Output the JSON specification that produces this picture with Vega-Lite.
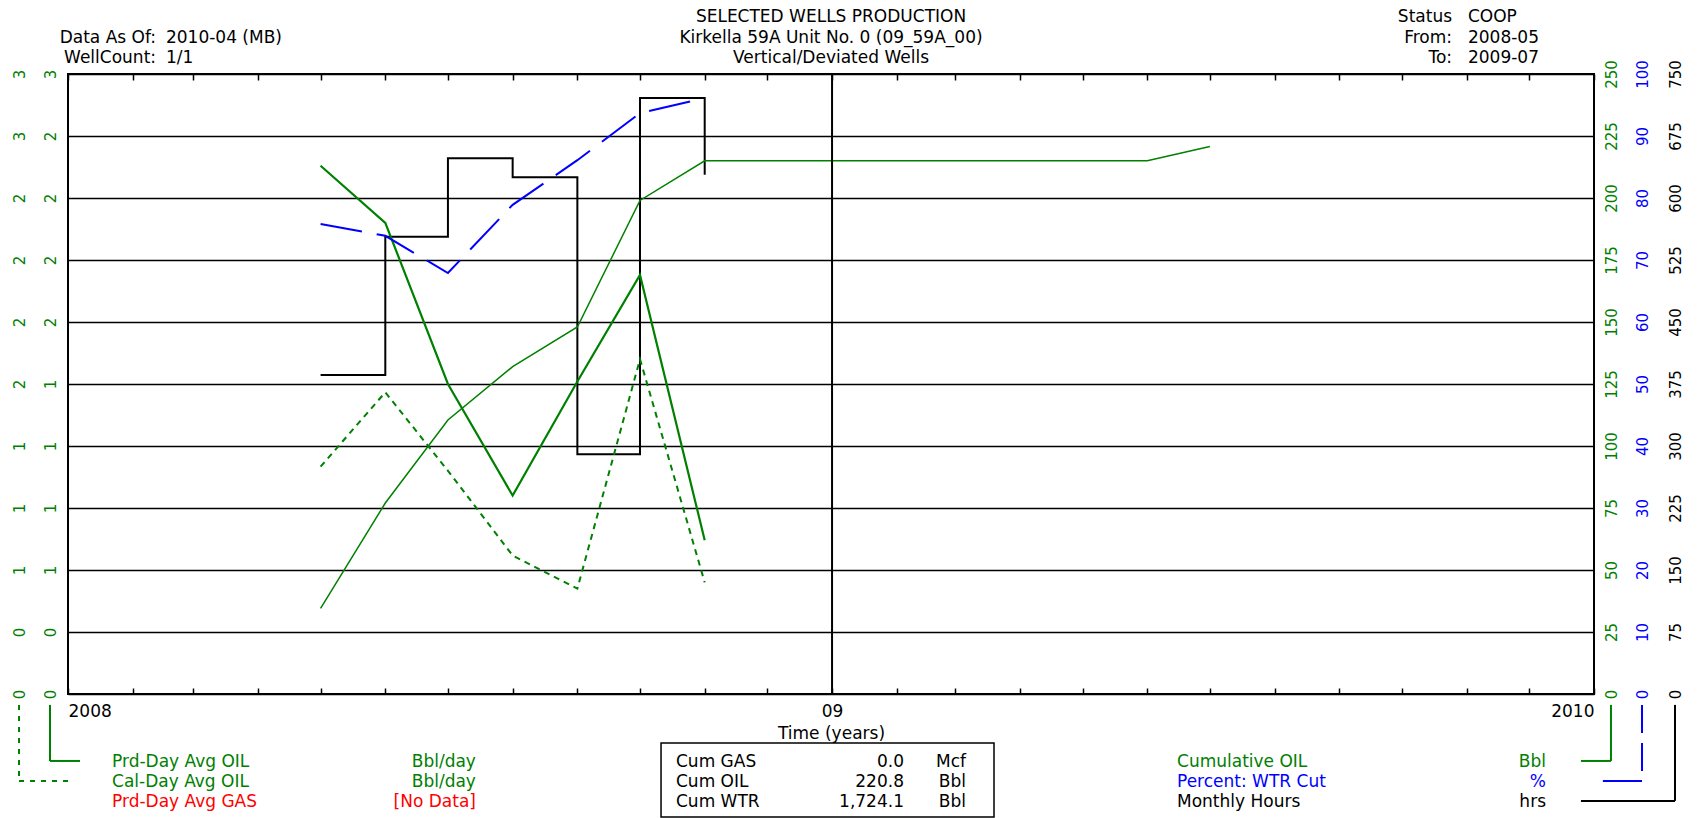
{
  "$schema": "https://vega.github.io/schema/vega-lite/v6.json",
  "width": 1526,
  "height": 620,
  "autosize": {"type": "none"},
  "padding": {"left": 68, "top": 74, "right": 104, "bottom": 124},
  "background": "white",
  "config": {
    "font": "DejaVu Sans",
    "view": {"stroke": "black", "strokeWidth": 2}
  },
  "data": {"values": [
    {"date": "2008/05/01", "prd": 2.13, "cal": 1.10, "cum": 34.5, "wc": 75.8, "hrs": 386},
    {"date": "2008/06/01", "prd": 1.90, "cal": 1.46, "cum": 77.0, "wc": 73.9, "hrs": 553},
    {"date": "2008/07/01", "prd": 1.25, "cal": 1.08, "cum": 110.5, "wc": 67.9, "hrs": 648},
    {"date": "2008/08/01", "prd": 0.80, "cal": 0.67, "cum": 132.0, "wc": 78.9, "hrs": 625},
    {"date": "2008/09/01", "prd": 1.26, "cal": 0.51, "cum": 148.0, "wc": 86.1, "hrs": 290},
    {"date": "2008/10/01", "prd": 1.69, "cal": 1.62, "cum": 199.0, "wc": 93.7, "hrs": 721},
    {"date": "2008/11/01", "prd": 0.62, "cal": 0.54, "cum": 215.0, "wc": 96.1, "hrs": 628},
    {"date": "2008/12/01", "cum": 215.0},
    {"date": "2009/01/01", "cum": 215.0},
    {"date": "2009/02/01", "cum": 215.0},
    {"date": "2009/03/01", "cum": 215.0},
    {"date": "2009/04/01", "cum": 215.0},
    {"date": "2009/05/01", "cum": 215.0},
    {"date": "2009/06/01", "cum": 215.0},
    {"date": "2009/07/01", "cum": 220.8}
  ]},
  "resolve": {"scale": {"y": "independent"}, "axis": {"x": "independent"}},
  "layer": [
    {
      "mark": {"type": "line", "interpolate": "step-after", "color": "black", "strokeWidth": 2},
      "encoding": {
        "x": {"field": "date", "type": "temporal",
          "scale": {"domain": [{"year": 2008, "month": 1, "date": 1}, {"year": 2010, "month": 1, "date": 1}], "nice": false},
          "axis": {"orient": "bottom", "tickCount": {"interval": "month", "step": 1},
            "labelExpr": "month(datum.value) == 0 ? (year(datum.value) == 2009 ? '09' : '' + year(datum.value)) : ''",
            "labelFlush": true, "labelOverlap": false, "grid": false, "domain": false,
            "ticks": true, "tickSize": -6, "tickColor": "black", "tickWidth": 1.5,
            "labelPadding": 15, "labelFontSize": 17, "labelColor": "black",
            "title": "Time (years)", "titleFontSize": 17, "titleFontWeight": "normal", "titleColor": "black", "titlePadding": 6}},
        "y": {"field": "hrs", "type": "quantitative", "scale": {"domain": [0, 750], "nice": false},
          "axis": {"orient": "right", "offset": 81, "values": [0, 75, 150, 225, 300, 375, 450, 525, 600, 675, 750],
            "labelAngle": 270, "labelAlign": "center", "labelBaseline": "middle", "labelPadding": 0,
            "ticks": false, "domain": false, "grid": false, "title": null, "labelColor": "black", "labelFontSize": 15, "labelOverlap": false}}
      }
    },
    {
      "mark": {"type": "line", "color": "#008000", "strokeWidth": 1.5},
      "encoding": {
        "x": {"field": "date", "type": "temporal", "axis": null},
        "y": {"field": "cum", "type": "quantitative", "scale": {"domain": [0, 250], "nice": false},
          "axis": {"orient": "right", "offset": 17, "values": [0, 25, 50, 75, 100, 125, 150, 175, 200, 225, 250],
            "labelAngle": 270, "labelAlign": "center", "labelBaseline": "middle", "labelPadding": 0,
            "ticks": false, "domain": false, "grid": true, "gridColor": "black", "gridWidth": 1.6, "gridOpacity": 1,
            "title": null, "labelColor": "#008000", "labelFontSize": 15, "labelOverlap": false}}
      }
    },
    {
      "mark": {"type": "line", "color": "#008000", "strokeWidth": 2.2},
      "encoding": {
        "x": {"field": "date", "type": "temporal", "axis": null},
        "y": {"field": "prd", "type": "quantitative", "scale": {"domain": [0, 2.5], "nice": false},
          "axis": {"orient": "left", "offset": 18, "values": [0, 0.25, 0.5, 0.75, 1, 1.25, 1.5, 1.75, 2, 2.25, 2.5], "format": ".0f",
            "labelAngle": 270, "labelAlign": "center", "labelBaseline": "middle", "labelPadding": 0,
            "ticks": false, "domain": false, "grid": false, "title": null, "labelColor": "#008000", "labelFontSize": 15, "labelOverlap": false}}
      }
    },
    {
      "mark": {"type": "line", "color": "#008000", "strokeWidth": 2, "strokeDash": [6, 5]},
      "encoding": {
        "x": {"field": "date", "type": "temporal", "axis": null},
        "y": {"field": "cal", "type": "quantitative", "scale": {"domain": [0, 3], "nice": false},
          "axis": {"orient": "left", "offset": 49, "values": [0, 0.3, 0.6, 0.9, 1.2, 1.5, 1.8, 2.1, 2.4, 2.7, 3], "format": ".0f",
            "labelAngle": 270, "labelAlign": "center", "labelBaseline": "middle", "labelPadding": 0,
            "ticks": false, "domain": false, "grid": false, "title": null, "labelColor": "#008000", "labelFontSize": 15, "labelOverlap": false}}
      }
    },
    {
      "mark": {"type": "line", "color": "#0000ff", "strokeWidth": 2, "strokeDash": [42, 15]},
      "encoding": {
        "x": {"field": "date", "type": "temporal",
          "axis": {"orient": "top", "tickCount": {"interval": "month", "step": 1}, "labels": false, "domain": false, "grid": false,
            "ticks": true, "tickSize": -6, "tickColor": "black", "tickWidth": 1.5, "title": null}},
        "y": {"field": "wc", "type": "quantitative", "scale": {"domain": [0, 100], "nice": false},
          "axis": {"orient": "right", "offset": 48, "values": [0, 10, 20, 30, 40, 50, 60, 70, 80, 90, 100],
            "labelAngle": 270, "labelAlign": "center", "labelBaseline": "middle", "labelPadding": 0,
            "ticks": false, "domain": false, "grid": false, "title": null, "labelColor": "#0000ff", "labelFontSize": 15, "labelOverlap": false}}
      }
    },
    {
      "data": {"values": [{}]},
      "mark": {"type": "rule", "color": "black", "strokeWidth": 2},
      "encoding": {
        "x": {"datum": {"year": 2009, "month": 1, "date": 1}, "type": "temporal", "axis": null}
      }
    },
    {
      "data": {"values": [{}]},
      "layer": [
        {"mark": {"type": "text", "align": "center", "baseline": "middle", "fontSize": 17, "color": "black", "text": "SELECTED WELLS PRODUCTION"},
         "encoding": {"x": {"datum": {"year": 2008, "month": 12, "date": 31, "hours": 12}, "type": "temporal", "axis": null},
           "y": {"datum": 273.0, "type": "quantitative", "axis": null, "scale": {"domain": [0, 250], "nice": false}}}},
        {"mark": {"type": "text", "align": "center", "baseline": "middle", "fontSize": 17, "color": "black", "text": "Kirkella 59A Unit No. 0 (09_59A_00)"},
         "encoding": {"x": {"datum": {"year": 2008, "month": 12, "date": 31, "hours": 12}, "type": "temporal", "axis": null},
           "y": {"datum": 264.5, "type": "quantitative", "axis": null, "scale": {"domain": [0, 250], "nice": false}}}},
        {"mark": {"type": "text", "align": "center", "baseline": "middle", "fontSize": 17, "color": "black", "text": "Vertical/Deviated Wells"},
         "encoding": {"x": {"datum": {"year": 2008, "month": 12, "date": 31, "hours": 12}, "type": "temporal", "axis": null},
           "y": {"datum": 256.5, "type": "quantitative", "axis": null, "scale": {"domain": [0, 250], "nice": false}}}},

        {"mark": {"type": "text", "align": "right", "baseline": "middle", "fontSize": 17, "color": "black", "text": "Data As Of:"},
         "encoding": {"x": {"datum": {"year": 2008, "month": 2, "date": 12, "hours": 4}, "type": "temporal", "axis": null},
           "y": {"datum": 264.5, "type": "quantitative", "axis": null, "scale": {"domain": [0, 250], "nice": false}}}},
        {"mark": {"type": "text", "align": "left", "baseline": "middle", "fontSize": 17, "color": "black", "text": "2010-04 (MB)"},
         "encoding": {"x": {"datum": {"year": 2008, "month": 2, "date": 16, "hours": 22}, "type": "temporal", "axis": null},
           "y": {"datum": 264.5, "type": "quantitative", "axis": null, "scale": {"domain": [0, 250], "nice": false}}}},
        {"mark": {"type": "text", "align": "right", "baseline": "middle", "fontSize": 17, "color": "black", "text": "WellCount:"},
         "encoding": {"x": {"datum": {"year": 2008, "month": 2, "date": 12, "hours": 4}, "type": "temporal", "axis": null},
           "y": {"datum": 256.5, "type": "quantitative", "axis": null, "scale": {"domain": [0, 250], "nice": false}}}},
        {"mark": {"type": "text", "align": "left", "baseline": "middle", "fontSize": 17, "color": "black", "text": "1/1"},
         "encoding": {"x": {"datum": {"year": 2008, "month": 2, "date": 16, "hours": 22}, "type": "temporal", "axis": null},
           "y": {"datum": 256.5, "type": "quantitative", "axis": null, "scale": {"domain": [0, 250], "nice": false}}}},

        {"mark": {"type": "text", "align": "right", "baseline": "middle", "fontSize": 17, "color": "black", "text": "Status"},
         "encoding": {"x": {"datum": {"year": 2009, "month": 10, "date": 25}, "type": "temporal", "axis": null},
           "y": {"datum": 273.0, "type": "quantitative", "axis": null, "scale": {"domain": [0, 250], "nice": false}}}},
        {"mark": {"type": "text", "align": "left", "baseline": "middle", "fontSize": 17, "color": "black", "text": "COOP"},
         "encoding": {"x": {"datum": {"year": 2009, "month": 11, "date": 1, "hours": 15}, "type": "temporal", "axis": null},
           "y": {"datum": 273.0, "type": "quantitative", "axis": null, "scale": {"domain": [0, 250], "nice": false}}}},
        {"mark": {"type": "text", "align": "right", "baseline": "middle", "fontSize": 17, "color": "black", "text": "From:"},
         "encoding": {"x": {"datum": {"year": 2009, "month": 10, "date": 25}, "type": "temporal", "axis": null},
           "y": {"datum": 264.5, "type": "quantitative", "axis": null, "scale": {"domain": [0, 250], "nice": false}}}},
        {"mark": {"type": "text", "align": "left", "baseline": "middle", "fontSize": 17, "color": "black", "text": "2008-05"},
         "encoding": {"x": {"datum": {"year": 2009, "month": 11, "date": 1, "hours": 15}, "type": "temporal", "axis": null},
           "y": {"datum": 264.5, "type": "quantitative", "axis": null, "scale": {"domain": [0, 250], "nice": false}}}},
        {"mark": {"type": "text", "align": "right", "baseline": "middle", "fontSize": 17, "color": "black", "text": "To:"},
         "encoding": {"x": {"datum": {"year": 2009, "month": 10, "date": 25}, "type": "temporal", "axis": null},
           "y": {"datum": 256.5, "type": "quantitative", "axis": null, "scale": {"domain": [0, 250], "nice": false}}}},
        {"mark": {"type": "text", "align": "left", "baseline": "middle", "fontSize": 17, "color": "black", "text": "2009-07"},
         "encoding": {"x": {"datum": {"year": 2009, "month": 11, "date": 1, "hours": 15}, "type": "temporal", "axis": null},
           "y": {"datum": 256.5, "type": "quantitative", "axis": null, "scale": {"domain": [0, 250], "nice": false}}}},

        {"mark": {"type": "text", "align": "left", "baseline": "middle", "fontSize": 17, "color": "#008000", "text": "Prd-Day Avg OIL"},
         "encoding": {"x": {"datum": {"year": 2008, "month": 1, "date": 22, "hours": 2}, "type": "temporal", "axis": null},
           "y": {"datum": -27.4, "type": "quantitative", "axis": null, "scale": {"domain": [0, 250], "nice": false}}}},
        {"mark": {"type": "text", "align": "right", "baseline": "middle", "fontSize": 17, "color": "#008000", "text": "Bbl/day"},
         "encoding": {"x": {"datum": {"year": 2008, "month": 7, "date": 14, "hours": 10}, "type": "temporal", "axis": null},
           "y": {"datum": -27.4, "type": "quantitative", "axis": null, "scale": {"domain": [0, 250], "nice": false}}}},
        {"mark": {"type": "text", "align": "left", "baseline": "middle", "fontSize": 17, "color": "#008000", "text": "Cal-Day Avg OIL"},
         "encoding": {"x": {"datum": {"year": 2008, "month": 1, "date": 22, "hours": 2}, "type": "temporal", "axis": null},
           "y": {"datum": -35.5, "type": "quantitative", "axis": null, "scale": {"domain": [0, 250], "nice": false}}}},
        {"mark": {"type": "text", "align": "right", "baseline": "middle", "fontSize": 17, "color": "#008000", "text": "Bbl/day"},
         "encoding": {"x": {"datum": {"year": 2008, "month": 7, "date": 14, "hours": 10}, "type": "temporal", "axis": null},
           "y": {"datum": -35.5, "type": "quantitative", "axis": null, "scale": {"domain": [0, 250], "nice": false}}}},
        {"mark": {"type": "text", "align": "left", "baseline": "middle", "fontSize": 17, "color": "#ff0000", "text": "Prd-Day Avg GAS"},
         "encoding": {"x": {"datum": {"year": 2008, "month": 1, "date": 22, "hours": 2}, "type": "temporal", "axis": null},
           "y": {"datum": -43.5, "type": "quantitative", "axis": null, "scale": {"domain": [0, 250], "nice": false}}}},
        {"mark": {"type": "text", "align": "right", "baseline": "middle", "fontSize": 17, "color": "#ff0000", "text": "[No Data]"},
         "encoding": {"x": {"datum": {"year": 2008, "month": 7, "date": 14, "hours": 10}, "type": "temporal", "axis": null},
           "y": {"datum": -43.5, "type": "quantitative", "axis": null, "scale": {"domain": [0, 250], "nice": false}}}},

        {"mark": {"type": "rect", "fill": "white", "fillOpacity": 0, "stroke": "black", "strokeWidth": 1.5},
         "encoding": {"x": {"datum": {"year": 2008, "month": 10, "date": 11, "hours": 2}, "type": "temporal", "axis": null},
           "x2": {"datum": {"year": 2009, "month": 3, "date": 19, "hours": 14}},
           "y": {"datum": -19.8, "type": "quantitative", "axis": null, "scale": {"domain": [0, 250], "nice": false}},
           "y2": {"datum": -49.6}}},
        {"mark": {"type": "text", "align": "left", "baseline": "middle", "fontSize": 17, "color": "black", "text": "Cum GAS"},
         "encoding": {"x": {"datum": {"year": 2008, "month": 10, "date": 18, "hours": 6}, "type": "temporal", "axis": null},
           "y": {"datum": -27.4, "type": "quantitative", "axis": null, "scale": {"domain": [0, 250], "nice": false}}}},
        {"mark": {"type": "text", "align": "right", "baseline": "middle", "fontSize": 17, "color": "black", "text": "0.0"},
         "encoding": {"x": {"datum": {"year": 2009, "month": 2, "date": 4, "hours": 11}, "type": "temporal", "axis": null},
           "y": {"datum": -27.4, "type": "quantitative", "axis": null, "scale": {"domain": [0, 250], "nice": false}}}},
        {"mark": {"type": "text", "align": "right", "baseline": "middle", "fontSize": 17, "color": "black", "text": "Mcf"},
         "encoding": {"x": {"datum": {"year": 2009, "month": 3, "date": 6, "hours": 4}, "type": "temporal", "axis": null},
           "y": {"datum": -27.4, "type": "quantitative", "axis": null, "scale": {"domain": [0, 250], "nice": false}}}},
        {"mark": {"type": "text", "align": "left", "baseline": "middle", "fontSize": 17, "color": "black", "text": "Cum OIL"},
         "encoding": {"x": {"datum": {"year": 2008, "month": 10, "date": 18, "hours": 6}, "type": "temporal", "axis": null},
           "y": {"datum": -35.5, "type": "quantitative", "axis": null, "scale": {"domain": [0, 250], "nice": false}}}},
        {"mark": {"type": "text", "align": "right", "baseline": "middle", "fontSize": 17, "color": "black", "text": "220.8"},
         "encoding": {"x": {"datum": {"year": 2009, "month": 2, "date": 4, "hours": 11}, "type": "temporal", "axis": null},
           "y": {"datum": -35.5, "type": "quantitative", "axis": null, "scale": {"domain": [0, 250], "nice": false}}}},
        {"mark": {"type": "text", "align": "right", "baseline": "middle", "fontSize": 17, "color": "black", "text": "Bbl"},
         "encoding": {"x": {"datum": {"year": 2009, "month": 3, "date": 6, "hours": 4}, "type": "temporal", "axis": null},
           "y": {"datum": -35.5, "type": "quantitative", "axis": null, "scale": {"domain": [0, 250], "nice": false}}}},
        {"mark": {"type": "text", "align": "left", "baseline": "middle", "fontSize": 17, "color": "black", "text": "Cum WTR"},
         "encoding": {"x": {"datum": {"year": 2008, "month": 10, "date": 18, "hours": 6}, "type": "temporal", "axis": null},
           "y": {"datum": -43.5, "type": "quantitative", "axis": null, "scale": {"domain": [0, 250], "nice": false}}}},
        {"mark": {"type": "text", "align": "right", "baseline": "middle", "fontSize": 17, "color": "black", "text": "1,724.1"},
         "encoding": {"x": {"datum": {"year": 2009, "month": 2, "date": 4, "hours": 11}, "type": "temporal", "axis": null},
           "y": {"datum": -43.5, "type": "quantitative", "axis": null, "scale": {"domain": [0, 250], "nice": false}}}},
        {"mark": {"type": "text", "align": "right", "baseline": "middle", "fontSize": 17, "color": "black", "text": "Bbl"},
         "encoding": {"x": {"datum": {"year": 2009, "month": 3, "date": 6, "hours": 4}, "type": "temporal", "axis": null},
           "y": {"datum": -43.5, "type": "quantitative", "axis": null, "scale": {"domain": [0, 250], "nice": false}}}},

        {"mark": {"type": "text", "align": "left", "baseline": "middle", "fontSize": 17, "color": "#008000", "text": "Cumulative OIL"},
         "encoding": {"x": {"datum": {"year": 2009, "month": 6, "date": 15, "hours": 6}, "type": "temporal", "axis": null},
           "y": {"datum": -27.4, "type": "quantitative", "axis": null, "scale": {"domain": [0, 250], "nice": false}}}},
        {"mark": {"type": "text", "align": "right", "baseline": "middle", "fontSize": 17, "color": "#008000", "text": "Bbl"},
         "encoding": {"x": {"datum": {"year": 2009, "month": 12, "date": 9}, "type": "temporal", "axis": null},
           "y": {"datum": -27.4, "type": "quantitative", "axis": null, "scale": {"domain": [0, 250], "nice": false}}}},
        {"mark": {"type": "text", "align": "left", "baseline": "middle", "fontSize": 17, "color": "#0000ff", "text": "Percent: WTR Cut"},
         "encoding": {"x": {"datum": {"year": 2009, "month": 6, "date": 15, "hours": 6}, "type": "temporal", "axis": null},
           "y": {"datum": -35.5, "type": "quantitative", "axis": null, "scale": {"domain": [0, 250], "nice": false}}}},
        {"mark": {"type": "text", "align": "right", "baseline": "middle", "fontSize": 17, "color": "#0000ff", "text": "%"},
         "encoding": {"x": {"datum": {"year": 2009, "month": 12, "date": 9}, "type": "temporal", "axis": null},
           "y": {"datum": -35.5, "type": "quantitative", "axis": null, "scale": {"domain": [0, 250], "nice": false}}}},
        {"mark": {"type": "text", "align": "left", "baseline": "middle", "fontSize": 17, "color": "black", "text": "Monthly Hours"},
         "encoding": {"x": {"datum": {"year": 2009, "month": 6, "date": 15, "hours": 6}, "type": "temporal", "axis": null},
           "y": {"datum": -43.5, "type": "quantitative", "axis": null, "scale": {"domain": [0, 250], "nice": false}}}},
        {"mark": {"type": "text", "align": "right", "baseline": "middle", "fontSize": 17, "color": "black", "text": "hrs"},
         "encoding": {"x": {"datum": {"year": 2009, "month": 12, "date": 9}, "type": "temporal", "axis": null},
           "y": {"datum": -43.5, "type": "quantitative", "axis": null, "scale": {"domain": [0, 250], "nice": false}}}},

        {"mark": {"type": "rule", "color": "#008000", "strokeWidth": 2},
         "encoding": {"x": {"datum": {"year": 2007, "month": 12, "date": 23, "hours": 9}, "type": "temporal", "axis": null},
           "y": {"datum": -4.4, "type": "quantitative", "axis": null, "scale": {"domain": [0, 250], "nice": false}},
           "y2": {"datum": -27.0}}},
        {"mark": {"type": "rule", "color": "#008000", "strokeWidth": 2},
         "encoding": {"x": {"datum": {"year": 2007, "month": 12, "date": 23, "hours": 9}, "type": "temporal", "axis": null},
           "x2": {"datum": {"year": 2008, "month": 1, "date": 6, "hours": 18}},
           "y": {"datum": -27.0, "type": "quantitative", "axis": null, "scale": {"domain": [0, 250], "nice": false}}}},
        {"mark": {"type": "rule", "color": "#008000", "strokeWidth": 2, "strokeDash": [5, 6]},
         "encoding": {"x": {"datum": {"year": 2007, "month": 12, "date": 8, "hours": 13}, "type": "temporal", "axis": null},
           "y": {"datum": -4.4, "type": "quantitative", "axis": null, "scale": {"domain": [0, 250], "nice": false}},
           "y2": {"datum": -35.1}}},
        {"mark": {"type": "rule", "color": "#008000", "strokeWidth": 2, "strokeDash": [5, 6]},
         "encoding": {"x": {"datum": {"year": 2007, "month": 12, "date": 8, "hours": 13}, "type": "temporal", "axis": null},
           "x2": {"datum": {"year": 2008, "month": 1, "date": 3, "hours": 10}},
           "y": {"datum": -35.1, "type": "quantitative", "axis": null, "scale": {"domain": [0, 250], "nice": false}}}},
        {"mark": {"type": "rule", "color": "#008000", "strokeWidth": 2},
         "encoding": {"x": {"datum": {"year": 2010, "month": 1, "date": 9, "hours": 3}, "type": "temporal", "axis": null},
           "y": {"datum": -4.4, "type": "quantitative", "axis": null, "scale": {"domain": [0, 250], "nice": false}},
           "y2": {"datum": -27.0}}},
        {"mark": {"type": "rule", "color": "#008000", "strokeWidth": 2},
         "encoding": {"x": {"datum": {"year": 2009, "month": 12, "date": 25, "hours": 18}, "type": "temporal", "axis": null},
           "x2": {"datum": {"year": 2010, "month": 1, "date": 9, "hours": 3}},
           "y": {"datum": -27.0, "type": "quantitative", "axis": null, "scale": {"domain": [0, 250], "nice": false}}}},
        {"mark": {"type": "rule", "color": "#0000ff", "strokeWidth": 2, "strokeDash": [28, 10]},
         "encoding": {"x": {"datum": {"year": 2010, "month": 1, "date": 24}, "type": "temporal", "axis": null},
           "y": {"datum": -4.4, "type": "quantitative", "axis": null, "scale": {"domain": [0, 250], "nice": false}},
           "y2": {"datum": -35.1}}},
        {"mark": {"type": "rule", "color": "#0000ff", "strokeWidth": 2},
         "encoding": {"x": {"datum": {"year": 2010, "month": 1, "date": 5, "hours": 6}, "type": "temporal", "axis": null},
           "x2": {"datum": {"year": 2010, "month": 1, "date": 24}},
           "y": {"datum": -35.1, "type": "quantitative", "axis": null, "scale": {"domain": [0, 250], "nice": false}}}},
        {"mark": {"type": "rule", "color": "black", "strokeWidth": 2},
         "encoding": {"x": {"datum": {"year": 2010, "month": 2, "date": 8, "hours": 19}, "type": "temporal", "axis": null},
           "y": {"datum": -4.4, "type": "quantitative", "axis": null, "scale": {"domain": [0, 250], "nice": false}},
           "y2": {"datum": -43.1}}},
        {"mark": {"type": "rule", "color": "black", "strokeWidth": 2},
         "encoding": {"x": {"datum": {"year": 2009, "month": 12, "date": 25, "hours": 18}, "type": "temporal", "axis": null},
           "x2": {"datum": {"year": 2010, "month": 2, "date": 8, "hours": 19}},
           "y": {"datum": -43.1, "type": "quantitative", "axis": null, "scale": {"domain": [0, 250], "nice": false}}}}
      ]
    }
  ]
}
